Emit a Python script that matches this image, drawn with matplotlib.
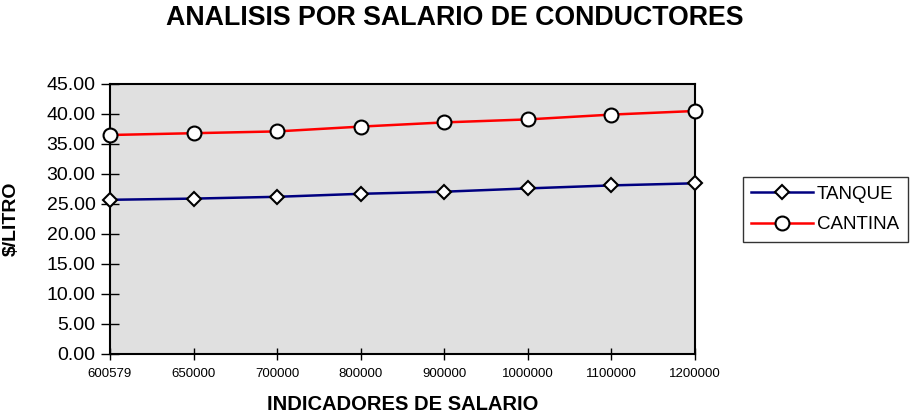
import matplotlib
matplotlib.use("Agg")
import matplotlib.pyplot as plt

plt.rcParams['font.family'] = ['Liberation Sans', 'DejaVu Sans']

categories = ["600579", "650000", "700000", "800000", "900000", "1000000", "1100000", "1200000"]
tanque = [25.7, 25.9, 26.2, 26.7, 27.05, 27.6, 28.1, 28.45]
cantina = [36.5, 36.8, 37.1, 37.9, 38.6, 39.1, 39.9, 40.5]
yticks = [0, 5, 10, 15, 20, 25, 30, 35, 40, 45]

fig = plt.figure(figsize=(9.1, 4.16), dpi=100)
ax = fig.add_axes([110/910, 1-354/416, 585/910, 270/416])
ax.set_facecolor('#E0E0E0')
x = list(range(len(categories)))
ax.plot(x, tanque, color='#000080', lw=1.8, marker='D', ms=7, mfc='white', mec='black', mew=1.5,
        label='TANQUE', clip_on=False, zorder=3)
ax.plot(x, cantina, color='#FF0000', lw=1.8, marker='o', ms=10, mfc='white', mec='black', mew=1.5,
        label='CANTINA', clip_on=False, zorder=3)
ax.set_xlim(0, len(categories)-1)
ax.set_ylim(0, 45)
ax.set_xticks(x)
ax.set_xticklabels(categories, fontsize=9.5)
ax.set_yticks(yticks)
ax.set_yticklabels([f"{v:.2f}" for v in yticks], fontsize=14)
ax.tick_params(axis='y', direction='inout', length=13, width=1, pad=4)
ax.tick_params(axis='x', direction='inout', length=8, width=1, pad=6)
for s in ax.spines.values():
    s.set_linewidth(1.5)
ax.xaxis.set_label_coords(0.5, -(405-354)/270)
ax.set_xlabel('INDICADORES DE SALARIO', fontsize=14.5, fontweight='bold', va='center')
ax.yaxis.set_label_coords(-(110-11)/585, 0.5)
ax.set_ylabel('$/LITRO', fontsize=14, fontweight='bold', va='center')
fig.text(0.5, 1-18/416, 'ANALISIS POR SALARIO DE CONDUCTORES', ha='center', va='center',
         fontsize=19.3, fontweight='bold')
leg = ax.legend(loc='center left', bbox_to_anchor=((743-110)/585, (354-209.5)/270), frameon=True,
                fancybox=False, edgecolor='black', fontsize=13.5, handlelength=3.3,
                borderpad=0.45, labelspacing=0.7, handletextpad=0.2, borderaxespad=0)
leg.get_frame().set_linewidth(1)
fig.savefig('out.png', dpi=100)
